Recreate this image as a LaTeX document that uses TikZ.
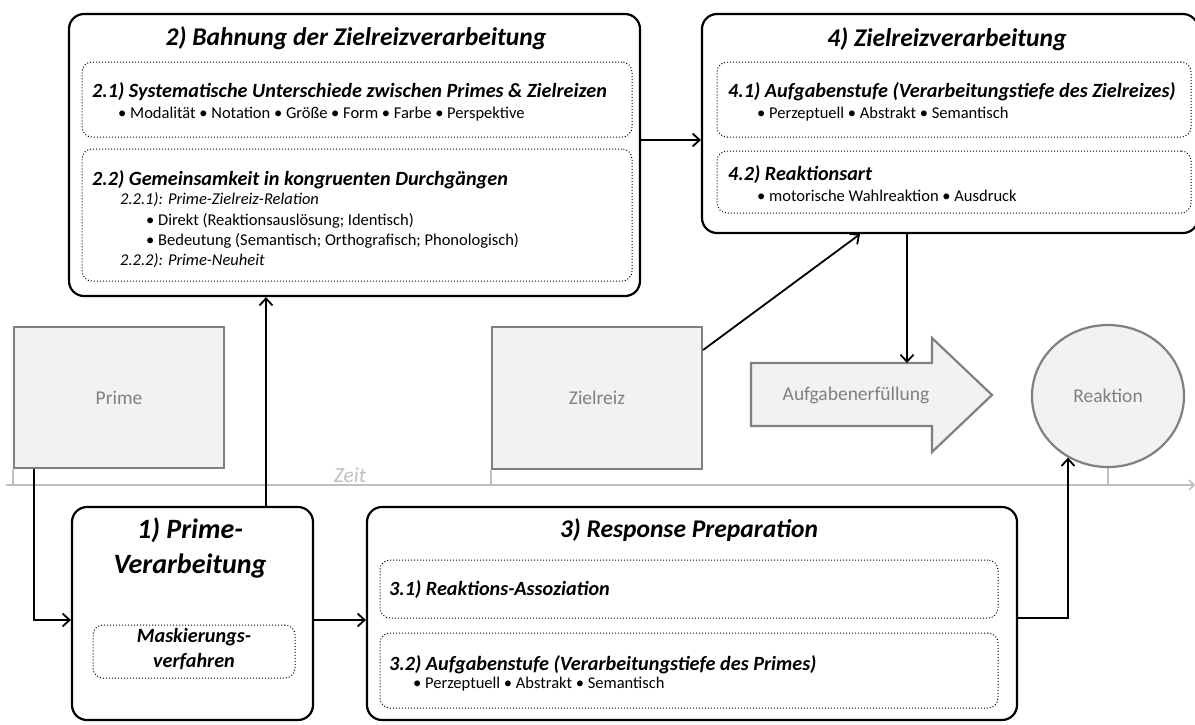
\documentclass[tikz,border=0pt]{standalone}
\usepackage{fontspec}
\setmainfont{Carlito}
\usetikzlibrary{arrows.meta,positioning,shapes.geometric}

\begin{document}
\begin{tikzpicture}[x=1pt, y=-1pt,
  stage/.style={draw, line width=2.2pt, rounded corners=15pt, inner sep=0pt},
  part/.style={draw, dotted, line width=1pt, rounded corners=10pt, inner sep=0pt},
  stim/.style={draw=black!50, fill=black!5, line width=2.2pt, text=black!50, inner sep=0pt, font=\fontsize{19.5}{22}\selectfont},
  head/.style={anchor=base, inner sep=0pt, font=\fontsize{25.5}{30}\selectfont\bfseries\itshape},
  sub/.style={anchor=base west, inner sep=0pt, font=\fontsize{20.2}{24}\selectfont\bfseries\itshape},
  item/.style={anchor=base west, inner sep=0pt, font=\fontsize{16.5}{19}\selectfont},
  flow/.style={-{Straight Barb[length=7pt,width=13pt]}, line width=1.8pt},
  zeitline/.style={draw=black!25, line width=1.5pt}
]
  \useasboundingbox (0,0) rectangle (1195,724);

  % Zeitachse
  \draw[zeitline, -{Straight Barb[length=5pt,width=10pt]}] (6,485) coordinate (z0) -- (1195,485) coordinate (z1);
  \node[anchor=base, inner sep=0pt, text=black!25, font=\fontsize{21.5}{24}\selectfont\itshape] (zeit) at (350,482) {Zeit};

  % Reize
  \node[stim, minimum width=210, minimum height=141] (prime) at (119,397.5) {Prime};
  \node[stim, minimum width=210, minimum height=142] (ziel) at (597,398) {Zielreiz};
  \draw[draw=black!50, fill=black!5, line width=2.2pt] (751,363) -- (932,363) -- (932,338) -- (992,395)
    -- (932,452) -- (932,426) -- (751,426) -- cycle;
  \node[inner sep=0pt, text=black!50, font=\fontsize{19.5}{22}\selectfont] (auf) at (856,395) {Aufgabenerfüllung};
  \coordinate (auftop) at (907,363);
  \node[stim, ellipse, minimum width=152, minimum height=142] (reak) at (1108,396) {Reaktion};

  \draw[zeitline] (prime.south west) -- (prime.south west |- z0);
  \draw[zeitline] (ziel.south west) -- (ziel.south west |- z0);
  \draw[zeitline] (reak.south) -- (reak.south |- z0);

  % 2) Bahnung
  \node[stage, minimum width=571, minimum height=282] (b2) at (354.5,155) {};
  \node[head] (t2) at (356,45) {2) Bahnung der Zielreizverarbeitung};
  \node[part, minimum width=550, minimum height=75] (p21) at (357,99.5) {};
  \node[sub] (s21) at (92,97) {2.1) Systematische Unterschiede zwischen Primes \& Zielreizen};
  \node[item] (i21) at (118,118) {• Modalität • Notation • Größe • Form • Farbe • Perspektive};
  \node[part, minimum width=550, minimum height=132] (p22) at (357,215) {};
  \node[sub] (s22) at (92,185) {2.2) Gemeinsamkeit in kongruenten Durchgängen};
  \node[item, font=\fontsize{16.5}{19}\selectfont\itshape] (i221) at (120,204) {2.2.1): Prime-Zielreiz-Relation};
  \node[item] (i2211) at (146,225) {• Direkt (Reaktionsauslösung; Identisch)};
  \node[item] (i2212) at (146,245) {• Bedeutung (Semantisch; Orthografisch; Phonologisch)};
  \node[item, font=\fontsize{16.5}{19}\selectfont\itshape] (i222) at (120,265) {2.2.2): Prime-Neuheit};

  % 4) Zielreizverarbeitung
  \node[stage, minimum width=496, minimum height=219] (b4) at (950,123.5) {};
  \node[head] (t4) at (947,46) {4) Zielreizverarbeitung};
  \node[part, minimum width=474, minimum height=75] (p41) at (954,99.5) {};
  \node[sub] (s41) at (728,97) {4.1) Aufgabenstufe (Verarbeitungstiefe des Zielreizes)};
  \node[item] (i41) at (757,118) {• Perzeptuell • Abstrakt • Semantisch};
  \node[part, minimum width=474, minimum height=62] (p42) at (954,182) {};
  \node[sub] (s42) at (728,180) {4.2) Reaktionsart};
  \node[item] (i42) at (757,201) {• motorische Wahlreaktion • Ausdruck};

  % 1) Prime-Verarbeitung
  \node[stage, minimum width=241, minimum height=213] (b1) at (192.5,613.5) {};
  \node[head, font=\fontsize{28}{32}\selectfont\bfseries\itshape] (t1a) at (190,538) {1) Prime-};
  \node[head, font=\fontsize{28}{32}\selectfont\bfseries\itshape] (t1b) at (190,573) {Verarbeitung};
  \node[part, minimum width=202, minimum height=53] (pm) at (194,651.5) {};
  \node[sub, anchor=base] (m1) at (194,642) {Maskierungs-};
  \node[sub, anchor=base] (m2) at (194,667) {verfahren};

  % 3) Response Preparation
  \node[stage, minimum width=650, minimum height=213] (b3) at (692,613.5) {};
  \node[head] (t3) at (689,537) {3) Response Preparation};
  \node[part, minimum width=618, minimum height=58] (p31) at (689,589) {};
  \node[sub] (s31) at (389,595) {3.1) Reaktions-Assoziation};
  \node[part, minimum width=618, minimum height=75] (p32) at (689,670.5) {};
  \node[sub] (s32) at (389,670) {3.2) Aufgabenstufe (Verarbeitungstiefe des Primes)};
  \node[item] (i32) at (413,688) {• Perzeptuell • Abstrakt • Semantisch};

  % Verbindungen
  \draw[flow] (prime.south -| 34,0) |- (b1.west |- 0,620);
  \draw[flow] (b1.north -| 266,0) -- (b2.south -| 266,0);
  \draw[flow] (b1.east |- 0,620) -- (b3.west |- 0,620);
  \draw[flow] (b2.east |- 0,140) -- (b4.west |- 0,140);
  \draw[flow] (ziel.east |- 0,350) -- (b4.south -| 860,0);
  \draw[flow] (b4.south -| auftop) -- (auftop);
  \draw[flow] (b3.east |- 0,618) -| (reak.-123);
\end{tikzpicture}
\end{document}
